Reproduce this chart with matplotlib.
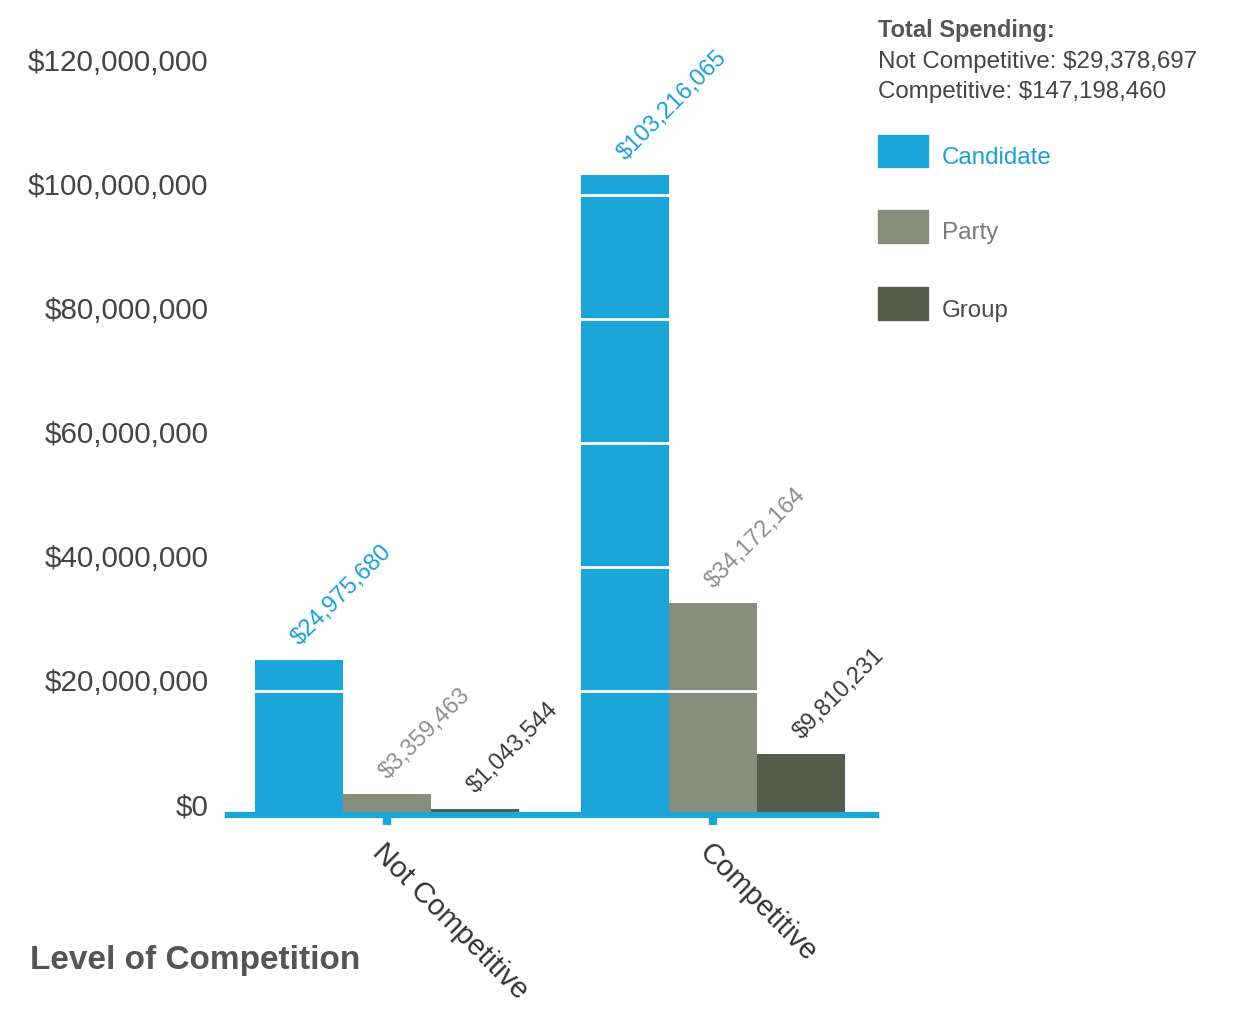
import matplotlib
matplotlib.use("Agg")
import matplotlib.pyplot as plt
import numpy as np
from matplotlib.patches import Rectangle

plt.rcParams['font.family'] = ['Liberation Sans', 'DejaVu Sans']

categories = ["Not Competitive", "Competitive"]
series = ["Candidate", "Party", "Group"]
candidate = [24975680, 103216065]
party = [3359463, 34172164]
group = [1043544, 9810231]
totals_text = ["Not Competitive: $29,378,697", "Competitive: $147,198,460"]
yticks = [0, 20000000, 40000000, 60000000, 80000000, 100000000, 120000000]

bar_colors = ["#1ba5d8", "#878e7e", "#535b4a"]
label_colors = ["#1c9fd6", "#8f8f8f", "#3c3c3c"]
legend_text_colors = ["#1c9fd6", "#7a7a7a", "#4a4a4a"]
blue = "#1ba5d8"

W, H = 1241, 1011
fig = plt.figure(figsize=(W / 100, H / 100), dpi=100)
ax = fig.add_axes([228 / W, 1 - 815 / H, (876 - 228) / W, (815 - 40) / H])

x = np.arange(len(categories))
bw = 0.27
vals = [candidate, party, group]
for i, (v, c, lc) in enumerate(zip(vals, bar_colors, label_colors)):
    pos = x + (i - 1) * bw
    ax.bar(pos, v, width=bw, color=c, zorder=1)
    for px, pv in zip(pos, v):
        ax.annotate(f"${pv:,.0f}", xy=(px, pv), xytext=(3, 8), textcoords="offset points",
                    rotation=45, rotation_mode="anchor", ha="left", va="bottom",
                    fontsize=17, color=lc, zorder=5)

ax.set_xlim(-0.488, 1.5)
ax.set_ylim(0, 125000000)
ax.set_yticks(yticks)
ax.set_yticklabels([f"${t:,.0f}" for t in yticks], fontsize=21.3, color="#444444",
                   va="baseline")
ax.tick_params(axis="y", length=0, pad=14)
ax.yaxis.grid(True, color="white", linewidth=2, zorder=3)
ax.set_axisbelow(False)
ax.xaxis.grid(False)

ax.set_xticks(x)
ax.set_xticklabels(categories, rotation=-45, rotation_mode="anchor", ha="left", va="top",
                   fontsize=21, color="#333333")
ax.tick_params(axis="x", length=7, width=6, color=blue, pad=10)
for s in ["top", "right", "left"]:
    ax.spines[s].set_visible(False)
ax.spines["bottom"].set_color(blue)
ax.spines["bottom"].set_linewidth(4.5)
ax.spines["bottom"].set_zorder(4)

# Total spending text
fig.text(878 / W, 1 - 31 / H, "Total Spending:", fontsize=17, fontweight="bold",
         color="#555555", va="center", ha="left")
fig.text(878 / W, 1 - 62 / H, totals_text[0], fontsize=17.4, color="#444444", va="center", ha="left")
fig.text(878 / W, 1 - 92 / H, totals_text[1], fontsize=17.4, color="#444444", va="center", ha="left")

# Legend
leg_y = [(135, 167), (210, 243), (287, 320)]
for (y0, y1), name, c, tc in zip(leg_y, series, bar_colors, legend_text_colors):
    fig.add_artist(Rectangle((878 / W, 1 - y1 / H), 50 / W, (y1 - y0) / H,
                             transform=fig.transFigure, color=c))
    fig.text(942 / W, 1 - (y0 + y1) / 2 / H - 7 / H, name, fontsize=17.4, color=tc,
             va="center", ha="left")

fig.text(30 / W, 1 - 960 / H, "Level of Competition", fontsize=24, fontweight="bold",
         color="#555555", va="center", ha="left")

fig.savefig("out.png", dpi=100, facecolor="white")
